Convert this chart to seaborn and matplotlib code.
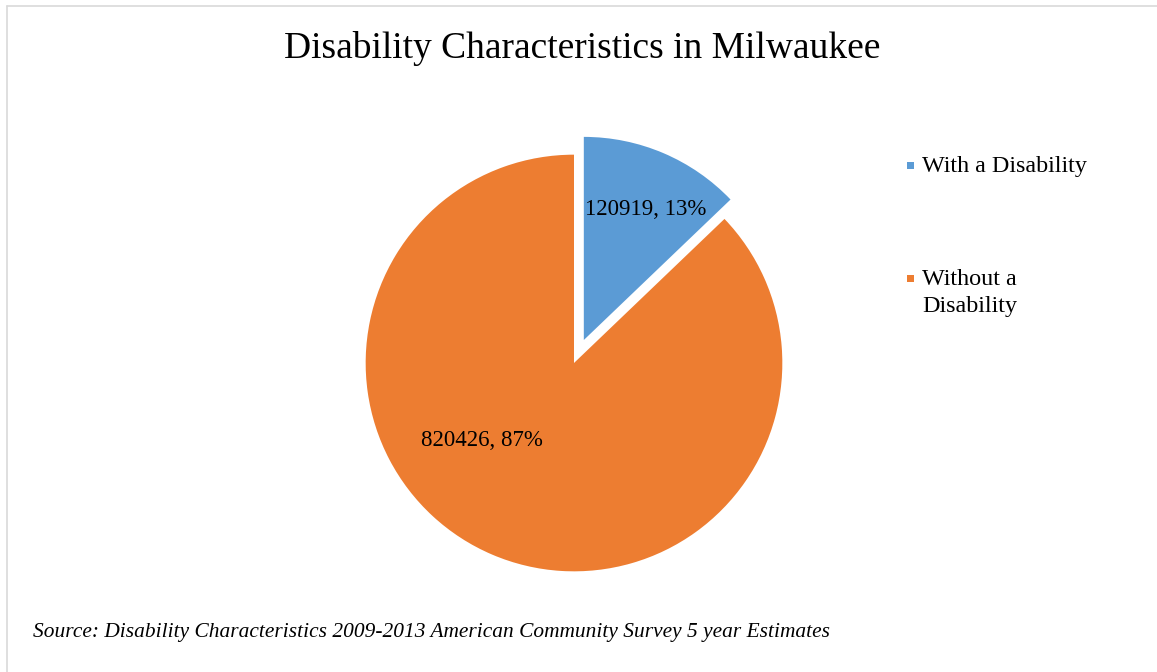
import matplotlib
matplotlib.use("Agg")
import matplotlib.pyplot as plt
import seaborn as sns
from matplotlib.patches import Rectangle
from matplotlib.lines import Line2D

categories = ["With a Disability", "Without a\nDisability"]
values = [120919, 820426]
colors = ["#5B9BD5", "#ED7D31"]
title = "Disability Characteristics in Milwaukee"
source = "Source: Disability Characteristics 2009-2013 American Community Survey 5 year Estimates"

sns.set_theme(style="white")
plt.rcParams["font.family"] = ["Liberation Serif", "DejaVu Serif"]

W, H = 1157, 672
fig = plt.figure(figsize=(W / 100, H / 100), dpi=100)

# axes for the pie, circle centre ~ (574, 363) px, radius ~ 208 px
cx, cy, half = 574, 363, 250
ax = fig.add_axes([(cx - half) / W, (H - cy - half) / H, 2 * half / W, 2 * half / H])
total = sum(values)

def fmt(pct):
    v = int(round(pct * total / 100.0))
    return f"{v}, {pct:.0f}%"

wedges, texts, autotexts = ax.pie(
    values, colors=colors, startangle=90, counterclock=False,
    explode=[0.12, 0], autopct=fmt, pctdistance=0.6,
    wedgeprops=dict(linewidth=0),
    textprops=dict(fontsize=16.5, color="black"),
)
wedges[0].set_radius(0.975)
ax.set_xlim(-1.2, 1.2)
ax.set_ylim(-1.2, 1.2)
ax.set_aspect("equal")
ax.axis("off")

autotexts[0].set_position((0.345, 0.735))
autotexts[1].set_position((-0.44, -0.37))

fig.text(582 / W, 1 - 48 / H, title, ha="center", va="center", fontsize=27, color="black")
fig.text(33 / W, 1 - 632 / H, source, ha="left", va="center", fontsize=15.4, style="italic", color="black")

# legend (manual, Excel style)
leg_y = [165, 278]
for c, lab, y in zip(colors, categories, leg_y):
    fig.patches.append(Rectangle((907 / W, 1 - (y + 3.5) / H), 7 / W, 7 / H,
                                 transform=fig.transFigure, facecolor=c, edgecolor="none"))
    fig.text(922 / W, 1 - (y - 9) / H, lab, ha="left", va="top", fontsize=17.4,
             color="black", linespacing=1.38)

# chart border (light gray)
fig.lines.append(Line2D([7 / W, 1], [1 - 5.5 / H, 1 - 5.5 / H], transform=fig.transFigure, color="#D9D9D9", lw=1.2))
fig.lines.append(Line2D([7 / W, 7 / W], [1 - 5.5 / H, 0], transform=fig.transFigure, color="#D9D9D9", lw=1.2))

fig.savefig("out.png", dpi=100, facecolor="white")
